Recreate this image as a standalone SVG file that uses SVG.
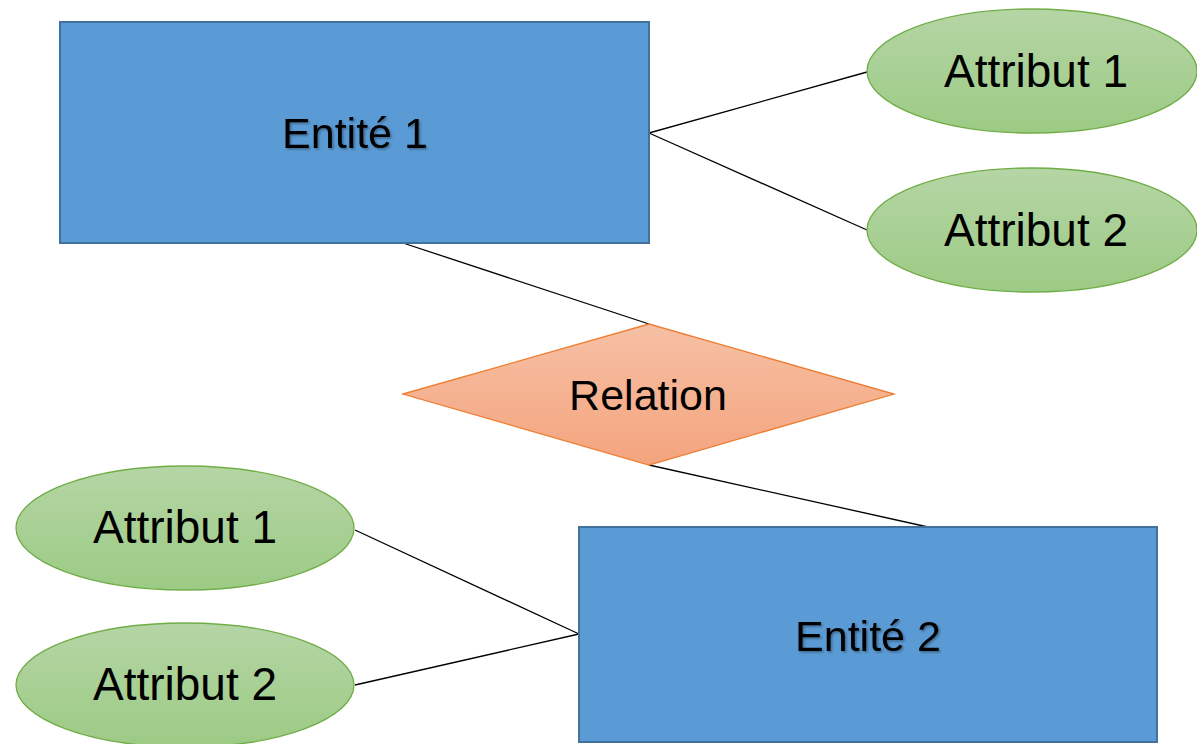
<svg xmlns="http://www.w3.org/2000/svg" width="1197" height="744" viewBox="0 0 1197 744">
<defs>
<linearGradient id="gGreen" x1="0" y1="0" x2="0" y2="1"><stop offset="0" stop-color="#b5d5a5"/><stop offset="1" stop-color="#9ccb85"/></linearGradient>
<linearGradient id="gOrange" x1="0" y1="0" x2="0" y2="1"><stop offset="0" stop-color="#f6c0a4"/><stop offset="1" stop-color="#f4a47e"/></linearGradient>
<filter id="sh" x="-10%" y="-10%" width="120%" height="130%"><feDropShadow dx="1.5" dy="1.5" stdDeviation="1" flood-color="#000" flood-opacity="0.35"/></filter>
</defs>
<style>
.ent{fill:#5b9bd5;stroke:#41719c;stroke-width:2}
.att{fill:url(#gGreen);stroke:#70ad47;stroke-width:1.3}
.rel{fill:url(#gOrange);stroke:#ed7d31;stroke-width:1.3}
.lbl{font-family:"Liberation Sans",Arial,sans-serif;fill:#000;text-anchor:middle}
.conn line{stroke:#000;stroke-width:1.3}
</style>
<rect width="1197" height="744" fill="#fff"/>
<g id="connectors" class="conn">
<line x1="649" y1="133" x2="867" y2="72"/>
<line x1="649" y1="133" x2="867" y2="230"/>
<line x1="403" y1="243" x2="649" y2="324"/>
<line x1="649" y1="465" x2="928" y2="527"/>
<line x1="355" y1="530" x2="579" y2="634"/>
<line x1="355" y1="685" x2="579" y2="634"/>
</g>
<g id="entite1">
<rect class="ent" x="60" y="22" width="589" height="221"/>
<text class="lbl" x="355" y="148" font-size="43" filter="url(#sh)">Entité 1</text>
</g>
<g id="attribut1-top">
<ellipse class="att" cx="1032" cy="71" rx="165" ry="62"/>
<text class="lbl" x="1036" y="87" font-size="46">Attribut 1</text>
</g>
<g id="attribut2-top">
<ellipse class="att" cx="1032" cy="230" rx="165" ry="62"/>
<text class="lbl" x="1036" y="246" font-size="46">Attribut 2</text>
</g>
<g id="relation">
<polygon class="rel" points="403,394 649,324 894,394 649,465"/>
<text class="lbl" x="648" y="410" font-size="43">Relation</text>
</g>
<g id="entite2">
<rect class="ent" x="579" y="527" width="578" height="215"/>
<text class="lbl" x="868" y="651" font-size="43" filter="url(#sh)">Entité 2</text>
</g>
<g id="attribut1-bottom">
<ellipse class="att" cx="185" cy="528" rx="169" ry="62"/>
<text class="lbl" x="185" y="543" font-size="46">Attribut 1</text>
</g>
<g id="attribut2-bottom">
<ellipse class="att" cx="185" cy="685" rx="169" ry="62"/>
<text class="lbl" x="185" y="700" font-size="46">Attribut 2</text>
</g>
</svg>
